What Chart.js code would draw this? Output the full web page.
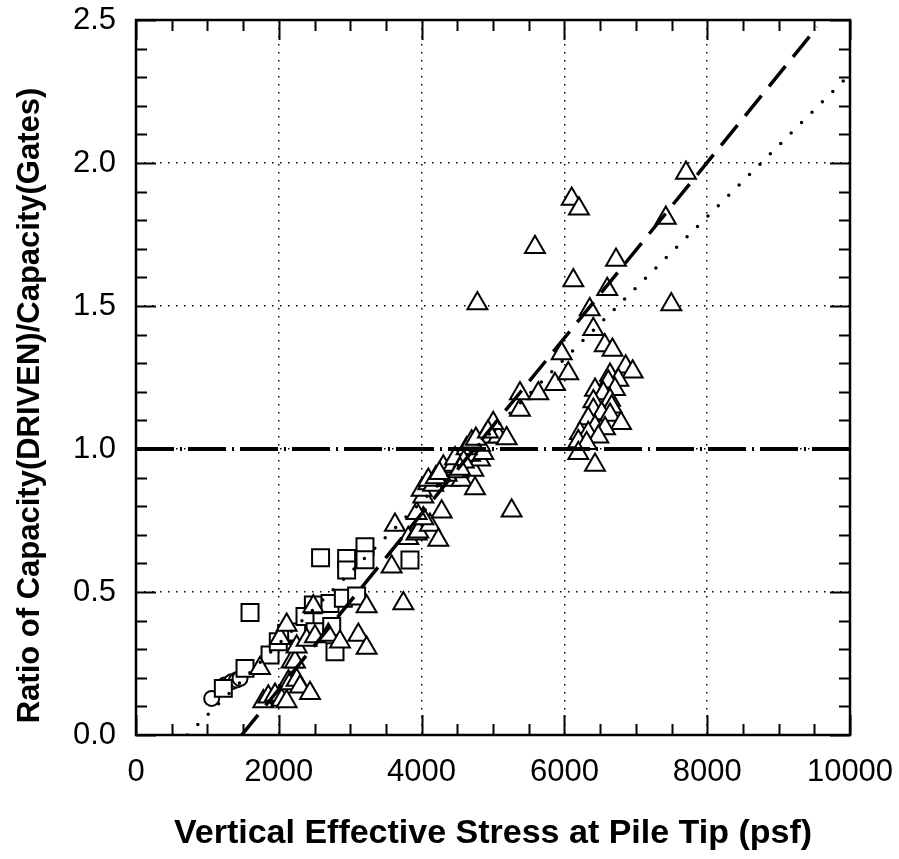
<!DOCTYPE html>
<html>
<head>
<meta charset="utf-8">
<script src="https://cdn.jsdelivr.net/npm/chart.js@4.4.1/dist/chart.umd.min.js"></script>
<style>
  html, body { margin: 0; padding: 0; background: #fff; }
  #wrap { width: 899px; height: 859px; }
</style>
</head>
<body>
<div id="wrap"><canvas id="c" width="899" height="859"></canvas></div>
<script>
// Axis ranges and tick steps
const xRange = [0, 10000];
const yRange = [0, 2.5];
const xMajorStep = 2000, xMinorStep = 500;
const yMajorStep = 0.5, yMinorStep = 0.1;

const xTitle = 'Vertical Effective Stress at Pile Tip (psf)';
const yTitle = 'Ratio of Capacity(DRIVEN)/Capacity(Gates)';

// Measured ratios, grouped by marker
const circlePoints = [
  [1060, 0.128], [1246, 0.175], [1340, 0.186], [1410, 0.192], [1457, 0.198]
];

const squarePoints = [
  [1223, 0.163], [1527, 0.233], [1597, 0.428], [1877, 0.280], [1993, 0.326],
  [2110, 0.355], [2250, 0.360], [2367, 0.414], [2484, 0.455], [2507, 0.361],
  [2585, 0.620], [2717, 0.460], [2741, 0.379], [2787, 0.291], [2904, 0.478],
  [2950, 0.617], [2950, 0.577], [3090, 0.486], [3207, 0.658], [3207, 0.613],
  [3837, 0.612]
];

const trianglePoints = [
  [1737, 0.233], [1783, 0.117], [1853, 0.134], [1947, 0.140], [2040, 0.122],
  [2110, 0.117], [2134, 0.186], [2157, 0.180], [2250, 0.192], [2297, 0.169],
  [2437, 0.146], [2180, 0.256], [2227, 0.256], [2250, 0.309], [2017, 0.338],
  [2110, 0.385], [2390, 0.332], [2484, 0.449], [2507, 0.344], [2694, 0.350],
  [2857, 0.326], [3114, 0.350], [3230, 0.304], [3230, 0.449], [3744, 0.460],
  [3580, 0.588], [3627, 0.734], [3813, 0.688], [3930, 0.704], [3954, 0.711],
  [4117, 0.734], [4024, 0.757], [3930, 0.775], [4281, 0.781], [4234, 0.682],
  [4024, 0.833], [4001, 0.857], [4094, 0.879], [4164, 0.874], [4094, 0.892],
  [4398, 0.892], [4561, 0.892], [4748, 0.862], [4350, 0.909], [4514, 0.921],
  [4724, 0.927], [4304, 0.938], [4444, 0.944], [4818, 0.962], [4468, 0.967],
  [4678, 0.979], [4865, 0.985], [4631, 1.002], [4818, 1.014], [4888, 1.043],
  [5075, 1.043], [5003, 1.090], [5191, 1.037], [4590, 0.955], [4700, 1.025],
  [4760, 1.035], [4930, 1.060], [4540, 0.930], [4200, 0.900], [4250, 0.915],
  [5261, 0.784], [5378, 1.136], [5378, 1.194], [5634, 1.194], [5868, 1.226],
  [6054, 1.264], [5962, 1.334], [4781, 1.509], [5588, 1.705],
  [6102, 1.874], [6204, 1.840], [7420, 1.808], [7703, 1.965], [6723, 1.661],
  [6125, 1.589], [6600, 1.559], [7497, 1.505], [6355, 1.488], [6405, 1.419],
  [6565, 1.362], [6673, 1.346],
  [6858, 1.288], [6956, 1.270], [6639, 1.259], [6755, 1.241], [6615, 1.235],
  [6429, 1.206], [6709, 1.209], [6545, 1.194], [6406, 1.166], [6639, 1.171],
  [6662, 1.148], [6406, 1.136], [6522, 1.124], [6639, 1.119], [6334, 1.107],
  [6793, 1.090], [6429, 1.078], [6569, 1.072], [6218, 1.055], [6334, 1.055],
  [6475, 1.043], [6195, 1.026], [6312, 1.020], [6195, 0.985], [6429, 0.944]
];

// Trend lines and the unity reference
const dashedFit = [[1480, 0], [9540, 2.475]];
const dottedFit = [[720, 0], [10000, 2.31]];
const unityLine = [[0, 1.0], [10000, 1.0]];

const toXY = arr => arr.map(([x, y]) => ({ x, y }));

const FAMILY = "'Liberation Sans', Arial, Helvetica, sans-serif";
const TICK_FONT = { family: FAMILY, size: 31 };
const X_TITLE_FONT = { family: FAMILY, size: 34, weight: 'bold' };

// Frame with inward major/minor ticks on all four sides, plus the vertical axis title
const frameTicks = {
  id: 'frameTicks',
  afterDatasetsDraw(chart) {
    const { ctx, chartArea: a, scales: { x, y } } = chart;
    ctx.save();
    ctx.strokeStyle = '#000';
    ctx.lineWidth = 2;
    ctx.beginPath();
    for (let v = xRange[0]; v <= xRange[1]; v += xMinorStep) {
      const px = Math.round(x.getPixelForValue(v)) + 0.5;
      const len = v % xMajorStep === 0 ? 20 : 11;
      ctx.moveTo(px, a.bottom); ctx.lineTo(px, a.bottom - len);
      ctx.moveTo(px, a.top); ctx.lineTo(px, a.top + len);
    }
    const nY = Math.round((yRange[1] - yRange[0]) / yMinorStep);
    for (let i = 0; i <= nY; i++) {
      const v = yRange[0] + i * yMinorStep;
      const py = Math.round(y.getPixelForValue(v)) + 0.5;
      const len = i % 5 === 0 ? 20 : 11;
      ctx.moveTo(a.left, py); ctx.lineTo(a.left + len, py);
      ctx.moveTo(a.right, py); ctx.lineTo(a.right - len, py);
    }
    ctx.stroke();
    ctx.lineWidth = 2.5;
    ctx.strokeRect(a.left, a.top, a.right - a.left, a.bottom - a.top);

    // rotated title, centred a little below the middle of the axis
    ctx.translate(30, (a.top + a.bottom) / 2 + 28);
    ctx.rotate(-Math.PI / 2);
    ctx.fillStyle = '#000';
    ctx.font = "bold 31px " + FAMILY;
    ctx.textAlign = 'center';
    ctx.textBaseline = 'middle';
    ctx.fillText(yTitle, 0, 0);
    ctx.restore();
  }
};

const edgeHidden = range => ctx =>
  (ctx.tick && (ctx.tick.value === range[0] || ctx.tick.value === range[1])) ? 'rgba(0,0,0,0)' : '#000';

new Chart(document.getElementById('c'), {
  type: 'scatter',
  data: {
    datasets: [
      {
        label: 'unity',
        data: toXY(unityLine),
        showLine: true, pointRadius: 0,
        borderColor: '#000', borderWidth: 4,
        borderDash: [38, 6, 2, 6], borderCapStyle: 'butt'
      },
      {
        label: 'fit dashed',
        data: toXY(dashedFit),
        showLine: true, pointRadius: 0,
        borderColor: '#000', borderWidth: 3.5,
        borderDash: [26, 12], borderCapStyle: 'butt'
      },
      {
        label: 'fit dotted',
        data: toXY(dottedFit),
        showLine: true, pointRadius: 0,
        borderColor: '#000', borderWidth: 3.5,
        borderDash: [0, 14.7], borderCapStyle: 'round'
      },
      {
        label: 'triangles',
        data: toXY(trianglePoints),
        pointStyle: 'triangle', pointRadius: 11.5,
        backgroundColor: '#fff', borderColor: '#000', borderWidth: 2
      },
      {
        label: 'squares',
        data: toXY(squarePoints),
        pointStyle: 'rect', pointRadius: 12,
        backgroundColor: '#fff', borderColor: '#000', borderWidth: 2
      },
      {
        label: 'circles',
        data: toXY(circlePoints),
        pointStyle: 'circle', pointRadius: 7.5,
        backgroundColor: '#fff', borderColor: '#000', borderWidth: 2
      }
    ]
  },
  options: {
    responsive: false,
    devicePixelRatio: 1,
    animation: false,
    layout: { padding: { left: 0, right: 49, top: 20, bottom: 0 } },
    plugins: { legend: { display: false }, tooltip: { enabled: false } },
    scales: {
      x: {
        type: 'linear', min: xRange[0], max: xRange[1],
        afterFit: s => { s.height = 124; s.paddingLeft = 0; s.paddingRight = 0; },
        ticks: { stepSize: xMajorStep, color: '#000', font: TICK_FONT, padding: 19, maxRotation: 0,
                 callback: v => String(v) },
        grid: { color: edgeHidden(xRange), lineWidth: 1.5, drawTicks: false },
        border: { display: false, dash: [1.5, 6.5] },
        title: {
          display: true, text: xTitle,
          color: '#000', font: X_TITLE_FONT, padding: { top: 0, bottom: 5 }
        }
      },
      y: {
        type: 'linear', min: yRange[0], max: yRange[1],
        afterFit: s => { s.width = 136; s.paddingTop = 0; s.paddingBottom = 0; },
        ticks: { stepSize: yMajorStep, color: '#000', font: TICK_FONT, padding: 20,
                 callback: v => Number(v).toFixed(1) },
        grid: { color: edgeHidden(yRange), lineWidth: 1.5, drawTicks: false },
        border: { display: false, dash: [1.5, 6.5] },
        title: { display: false }
      }
    }
  },
  plugins: [frameTicks]
});
</script>
</body>
</html>
